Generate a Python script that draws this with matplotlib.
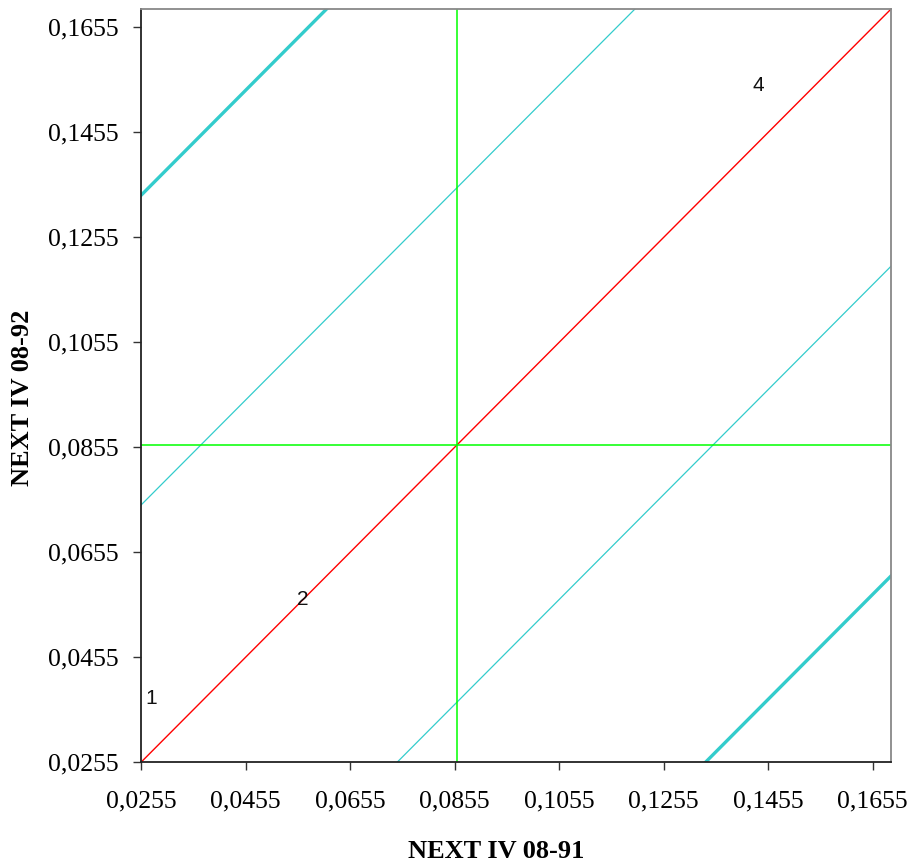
import numpy as np
import matplotlib
matplotlib.use("Agg")
import matplotlib.pyplot as plt

# axis range and ticks
lim = [0.0255, 0.169]
ticks = [0.0255, 0.0455, 0.0655, 0.0855, 0.1055, 0.1255, 0.1455, 0.1655]
tick_labels = ["0,0255", "0,0455", "0,0655", "0,0855", "0,1055", "0,1255", "0,1455", "0,1655"]

# diagonal lines y = x + offset
diag_offsets = [0.0, 0.049, -0.049, 0.108, -0.108]
diag_colors = ["#ff0000", "#33cccc", "#33cccc", "#33cccc", "#33cccc"]
diag_widths = [1.0, 0.9, 0.9, 2.4, 2.4]

# mean lines
mean_x = 0.086
mean_y = 0.086

# region labels
region_names = ["1", "2", "4"]
region_x = [0.0275, 0.0565, 0.1437]
region_y = [0.0376, 0.0565, 0.1545]

fig = plt.figure(figsize=(9.15, 8.68), dpi=100)
ax = fig.add_axes([0.1541, 0.1218, 0.8197, 0.8678])

for off, c, w in zip(diag_offsets, diag_colors, diag_widths):
    ax.axline((0, off), slope=1, color=c, lw=w)

ax.axvline(mean_x, color="#00ff00", lw=1.1)
ax.axhline(mean_y, color="#00ff00", lw=1.1)

for name, x, y in zip(region_names, region_x, region_y):
    ax.text(x, y, name, ha="center", va="center", fontsize=15,
            family="Liberation Sans", color="#111111")

ax.set_xlim(lim)
ax.set_ylim(lim)
ax.set_xticks(ticks)
ax.set_yticks(ticks)
ax.set_xticklabels(tick_labels, family="Liberation Serif", fontsize=18.5)
ax.set_yticklabels(tick_labels, family="Liberation Serif", fontsize=18.5)
ax.tick_params(direction="out", length=6, width=1, color="#333333")
ax.tick_params(axis="x", pad=14)
ax.tick_params(axis="y", pad=10)

for s in ["left", "bottom"]:
    ax.spines[s].set_color("#222222")
    ax.spines[s].set_linewidth(1.3)
for s in ["top", "right"]:
    ax.spines[s].set_color("#888888")
    ax.spines[s].set_linewidth(1.3)

ax.set_xlabel("NEXT IV 08-91", family="Liberation Serif", fontweight="bold", fontsize=19)
ax.set_ylabel("NEXT IV 08-92", family="Liberation Serif", fontweight="bold", fontsize=19)
ax.xaxis.set_label_coords(0.473, -0.119)
ax.xaxis.label.set_va("center")
ax.yaxis.set_label_coords(-0.1576, 0.4836)
ax.yaxis.label.set_va("center")

fig.savefig("out.png", dpi=100)
